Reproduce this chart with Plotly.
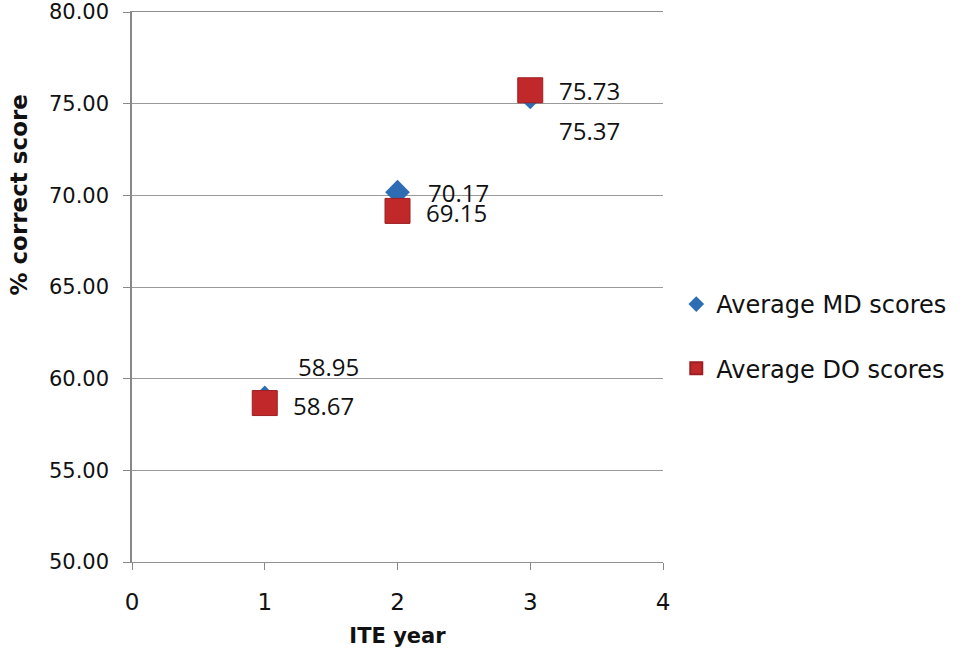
import plotly.graph_objects as go

# ITE year vs % correct score
years = [1, 2, 3]
md_scores = [58.95, 70.17, 75.37]
do_scores = [58.67, 69.15, 75.73]
y_ticks = [50, 55, 60, 65, 70, 75, 80]

fig = go.Figure()
fig.add_trace(go.Scatter(x=years, y=md_scores, mode="markers", name="Average MD scores",
                         legendgroup="md",
                         marker=dict(symbol="diamond", size=19, color="#2e6db4",
                                     line=dict(width=0))))
fig.add_trace(go.Scatter(x=years, y=do_scores, mode="markers", name="Average DO scores",
                         legendgroup="do",
                         marker=dict(symbol="square", size=25, color="#c0282a",
                                     line=dict(width=1, color="#9c1f22"))))

# data labels (pixel offsets from each marker)
md_shift = [(31, 31), (28, 0), (27, -34)]
do_shift = [(26, -2), (26, -2), (27, 0)]
lab_font = dict(family="Open Sans, sans-serif", size=24, color="#111111")
for xv, yv, (dx, dy) in zip(years, md_scores, md_shift):
    fig.add_annotation(x=xv, y=yv, text=f"{yv:.2f}", showarrow=False, xanchor="left",
                       xshift=dx, yshift=dy, font=lab_font)
for xv, yv, (dx, dy) in zip(years, do_scores, do_shift):
    fig.add_annotation(x=xv, y=yv, text=f"{yv:.2f}", showarrow=False, xanchor="left",
                       xshift=dx, yshift=dy, font=lab_font)

# y axis title sits above centre in the original
fig.add_annotation(xref="paper", yref="paper", x=-0.212, y=0.667, text="<b>% correct score</b>",
                   textangle=-90, showarrow=False, xanchor="center", yanchor="middle",
                   font=dict(family="DejaVu Sans", size=23, color="#111111"))

fig.update_layout(
    width=968, height=659,
    margin=dict(l=132, r=305, t=12, b=97),
    plot_bgcolor="white", paper_bgcolor="white",
    font=dict(family="DejaVu Sans", color="#111111"),
    legend=dict(x=1.025, y=0.41, yanchor="middle", xanchor="left",
                font=dict(family="DejaVu Sans", size=24, color="#111111"),
                itemsizing="constant", tracegroupgap=30, bgcolor="rgba(0,0,0,0)"),
    xaxis=dict(range=[0, 4], tickvals=[0, 1, 2, 3, 4], showgrid=False, zeroline=False,
               automargin=False,
               showline=True, linecolor="#8f8f8f", linewidth=1.4, mirror=True,
               ticks="outside", ticklen=7, tickcolor="#888888", ticklabelstandoff=12,
               tickfont=dict(size=23), title=dict(text="<b>ITE year</b>", font=dict(size=21), standoff=14)),
    yaxis=dict(range=[50, 80], tickvals=y_ticks, tickformat=".2f", showgrid=True,
               automargin=False, ticklabeloverflow="allow",
               gridcolor="#9a9a9a", gridwidth=1.3, zeroline=False,
               showline=True, linecolor="#888888", linewidth=1.5, mirror=False,
               ticks="outside", ticklen=7, tickcolor="#888888", ticklabelstandoff=10,
               tickfont=dict(size=21)),
)

# drop the default page margin so the figure sits at the window's corner
fig.write_html("out.html", config={"displayModeBar": False},
               post_script="document.body.style.margin='0';")
